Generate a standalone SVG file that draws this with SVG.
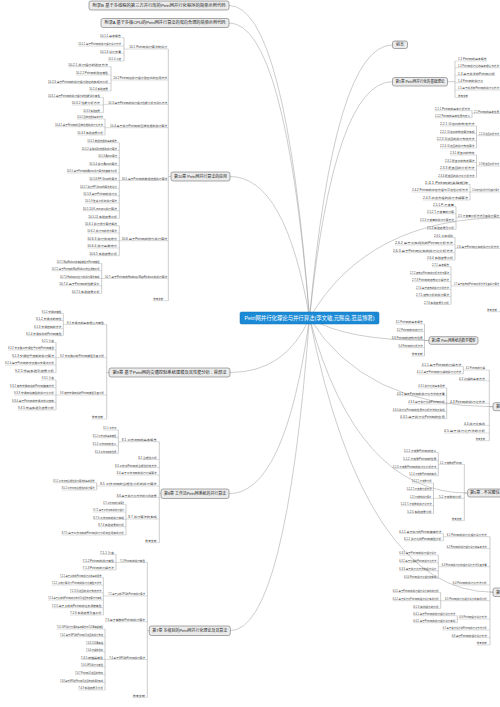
<svg xmlns="http://www.w3.org/2000/svg" width="500" height="707" viewBox="0 0 500 707">
<style>
.k path{fill:none;stroke:#9a9a9a;stroke-width:.5}
.n text{font-family:'Liberation Sans','Noto Sans CJK SC',sans-serif;font-size:2.8px;fill:#3a3a3a}
.n path{fill:none;stroke:#a6a6a6;stroke-width:.4}
.m rect{fill:#ebebeb;stroke:#6f6f6f;stroke-width:.6}
.m text{font-family:'Liberation Sans','Noto Sans CJK SC',sans-serif;font-size:4px;fill:#222;text-anchor:middle}
.m text.s{text-anchor:start}
#root rect{fill:#1b8ad6;stroke:#1670b0;stroke-width:.5}
#root text{fill:#fff;font-size:5.6px}
</style>
<rect width="500" height="707" fill="#fff"/>
<g id="connectors" class="k">
<path d="M309.5 318Q285.4 5.5 229 5.5"/>
<path d="M309.5 318Q285.4 23 229 23"/>
<path d="M309.5 318Q285.7 176.5 230 176.5"/>
<path d="M309.5 318Q285.7 372.5 230 372.5"/>
<path d="M309.5 318Q285.4 493.7 229 493.7"/>
<path d="M309.5 318Q285.7 630.7 230 630.7"/>
<path d="M309.5 318Q334.4 45 392.5 45"/>
<path d="M309.5 318Q334.4 81.7 392.5 81.7"/>
<path d="M309.5 318Q368.2 217.7 505 217.7"/>
<path d="M309.5 318Q345.4 340.5 429 340.5"/>
<path d="M309.5 318Q364.6 406.7 493 406.7"/>
<path d="M309.5 318Q357 493 467.7 493"/>
<path d="M309.5 318Q364.6 592.2 493 592.2"/>
<path d="M168.3 49V300.7M168.3 176.5H171"/>
<path d="M124 37.7V61M111 66.7V91M103.3 97.4V112.7M105 119V135M119.3 142.7V218.4M119.3 225.7V255.7M101.7 263.4V293.4"/>
<path d="M106.7 324.4V419M106.7 372.5H109"/>
<path d="M63.3 313.4V335.7M56 342.4V372.7M56 380V410"/>
<path d="M159.3 441.7V542.7M159.3 493.7H161"/>
<path d="M118.3 430V453.4M96.7 482.7V490M126 504.4V535"/>
<path d="M147.3 562.4V697.4M147.3 630.7H149.3"/>
<path d="M116 554.4V570M103.3 577.4V615M105 629V690"/>
<path d="M447.5 81.7H455M455 61V97.4"/>
<path d="M472 110.7V117.7M476.5 126V148M476.5 155V177.4M470 184.4V200M456 206.7V229.4M455 237.4V260M451 266.7V304.4"/>
<path d="M424.5 324V356M424.5 340.5H429"/>
<path d="M489.3 370V440.7M489.3 406.7H493M463.3 366.4V374M446.7 388V418.7"/>
<path d="M464.3 464.4V520.7M464.3 493H467.7M438.3 452.4V475.7M433.5 483V513.4"/>
<path d="M490 536.7V645M490 592.2H493M443.3 533.4V540.7M438.3 555V578.4M440.7 592.4V608.4M457.3 615.7V622.7"/>
</g>
<g class="n">
<g id="n10_1"><text x="129.3" y="48.3" textLength="38" lengthAdjust="spacingAndGlyphs">10.1 Petri网并行算法的设计</text><path d="M124 49H168.3"/></g>
<g id="n10_1_1"><text x="100" y="37" textLength="21" lengthAdjust="spacingAndGlyphs">10.1.1 基本概念</text><path d="M100 37.7H124"/></g>
<g id="n10_1_2"><text x="78.3" y="45.3" textLength="42.7" lengthAdjust="spacingAndGlyphs">10.1.2 基于Petri网的并行程序设计方法</text><path d="M78.3 46H124"/></g>
<g id="n10_1_3"><text x="100" y="52.7" textLength="21" lengthAdjust="spacingAndGlyphs">10.1.3 设计步骤</text><path d="M100 53.4H124"/></g>
<g id="n10_1_4"><text x="108.3" y="60.3" textLength="12.7" lengthAdjust="spacingAndGlyphs">10.1.4 小结</text><path d="M108.3 61H124"/></g>
<g id="n10_2"><text x="113.3" y="79.3" textLength="54" lengthAdjust="spacingAndGlyphs">10.2 Petri网在并行程序验证中的应用方法</text><path d="M111 80H168.3"/></g>
<g id="n10_2_1"><text x="68.3" y="66" textLength="39.7" lengthAdjust="spacingAndGlyphs">10.2.1 并行程序的验证方法</text><path d="M68.3 66.7H111"/></g>
<g id="n10_2_2"><text x="76" y="74.3" textLength="32" lengthAdjust="spacingAndGlyphs">10.2.2 Petri网的验证模型</text><path d="M76 75H111"/></g>
<g id="n10_2_3"><text x="48" y="82.7" textLength="60" lengthAdjust="spacingAndGlyphs">10.2.3 基于Petri网的并行程序验证的实现与分析</text><path d="M48 83.4H111"/></g>
<g id="n10_2_4"><text x="89.3" y="90.3" textLength="18.7" lengthAdjust="spacingAndGlyphs">10.2.4 实验结果</text><path d="M89.3 91H111"/></g>
<g id="n10_3"><text x="108.3" y="103.7" textLength="59" lengthAdjust="spacingAndGlyphs">10.3 基于Petri网的并行程序性能分析与评价方法</text><path d="M103.3 104.4H168.3"/></g>
<g id="n10_3_1"><text x="48" y="96.7" textLength="52" lengthAdjust="spacingAndGlyphs">10.3.1 基于Petri网的并行程序的性能评价模型</text><path d="M48 97.4H103.3"/></g>
<g id="n10_3_2"><text x="71.7" y="104.3" textLength="28.3" lengthAdjust="spacingAndGlyphs">10.3.2 性能分析方法</text><path d="M71.7 105H103.3"/></g>
<g id="n10_3_3"><text x="83.3" y="112" textLength="16.7" lengthAdjust="spacingAndGlyphs">10.3.3 实验结果</text><path d="M83.3 112.7H103.3"/></g>
<g id="n10_4"><text x="110" y="127" textLength="57.3" lengthAdjust="spacingAndGlyphs">10.4 基于并行Petri网的图像处理的并行算法</text><path d="M105 127.7H168.3"/></g>
<g id="n10_4_1"><text x="77" y="118.3" textLength="26" lengthAdjust="spacingAndGlyphs">10.4.1 图像处理的基本方法</text><path d="M77 119H105"/></g>
<g id="n10_4_2"><text x="55" y="126" textLength="48" lengthAdjust="spacingAndGlyphs">10.4.2 基于Petri网的图像处理的并行化方法</text><path d="M55 126.7H105"/></g>
<g id="n10_4_3"><text x="77.3" y="134.3" textLength="25.7" lengthAdjust="spacingAndGlyphs">10.4.3 实验结果分析</text><path d="M77.3 135H105"/></g>
<g id="n10_5"><text x="121.7" y="179.7" textLength="45.6" lengthAdjust="spacingAndGlyphs">10.5 基于Petri网的数据挖掘并行算法</text><path d="M119.3 180.4H168.3"/></g>
<g id="n10_5_1"><text x="87.3" y="142" textLength="29.7" lengthAdjust="spacingAndGlyphs">10.5.1 数据挖掘的基本概念</text><path d="M87.3 142.7H119.3"/></g>
<g id="n10_5_2"><text x="81.7" y="149.7" textLength="35.3" lengthAdjust="spacingAndGlyphs">10.5.2 关联规则挖掘的并行算法</text><path d="M81.7 150.4H119.3"/></g>
<g id="n10_5_3"><text x="98.3" y="157" textLength="18.7" lengthAdjust="spacingAndGlyphs">10.5.3 Apriori算法</text><path d="M98.3 157.7H119.3"/></g>
<g id="n10_5_4"><text x="89.3" y="164.7" textLength="27.7" lengthAdjust="spacingAndGlyphs">10.5.4 并行Apriori算法</text><path d="M89.3 165.4H119.3"/></g>
<g id="n10_5_5"><text x="66.7" y="172.3" textLength="50.3" lengthAdjust="spacingAndGlyphs">10.5.5 基于Petri网的Apriori并行算法的建模与分析</text><path d="M66.7 173H119.3"/></g>
<g id="n10_5_6"><text x="89.3" y="180" textLength="27.7" lengthAdjust="spacingAndGlyphs">10.5.6 FP-Growth算法</text><path d="M89.3 180.7H119.3"/></g>
<g id="n10_5_7"><text x="80" y="187.7" textLength="37" lengthAdjust="spacingAndGlyphs">10.5.7 并行FP-Growth算法的设计</text><path d="M80 188.4H119.3"/></g>
<g id="n10_5_8"><text x="83.3" y="195" textLength="33.7" lengthAdjust="spacingAndGlyphs">10.5.8 基于Petri网的并行化</text><path d="M83.3 195.7H119.3"/></g>
<g id="n10_5_9"><text x="85" y="202.3" textLength="32" lengthAdjust="spacingAndGlyphs">10.5.9 聚类分析的并行算法</text><path d="M85 203H119.3"/></g>
<g id="n10_5_10"><text x="82.7" y="210" textLength="34.3" lengthAdjust="spacingAndGlyphs">10.5.10 K-means并行算法</text><path d="M82.7 210.7H119.3"/></g>
<g id="n10_5_11"><text x="88.3" y="217.7" textLength="28.7" lengthAdjust="spacingAndGlyphs">10.5.11 实验结果分析</text><path d="M88.3 218.4H119.3"/></g>
<g id="n10_6"><text x="121.7" y="240" textLength="45.6" lengthAdjust="spacingAndGlyphs">10.6 基于Petri网的排序并行算法</text><path d="M119.3 240.7H168.3"/></g>
<g id="n10_6_1"><text x="85" y="225" textLength="32" lengthAdjust="spacingAndGlyphs">10.6.1 并行排序算法概述</text><path d="M85 225.7H119.3"/></g>
<g id="n10_6_2"><text x="87.3" y="232.3" textLength="29.7" lengthAdjust="spacingAndGlyphs">10.6.2 并行归并排序算法</text><path d="M87.3 233H119.3"/></g>
<g id="n10_6_3"><text x="87.3" y="240" textLength="29.7" lengthAdjust="spacingAndGlyphs">10.6.3 并行快速排序</text><path d="M87.3 240.7H119.3"/></g>
<g id="n10_6_4"><text x="87.3" y="247.3" textLength="29.7" lengthAdjust="spacingAndGlyphs">10.6.4 并行基数排序</text><path d="M87.3 248H119.3"/></g>
<g id="n10_6_5"><text x="89.3" y="255" textLength="27.7" lengthAdjust="spacingAndGlyphs">10.6.5 实验结果分析</text><path d="M89.3 255.7H119.3"/></g>
<g id="n10_7"><text x="105" y="277.7" textLength="62.3" lengthAdjust="spacingAndGlyphs">10.7 基于Petri网的Hadoop MapReduce的并行算法</text><path d="M101.7 278.4H168.3"/></g>
<g id="n10_7_1"><text x="56.7" y="262.7" textLength="42.8" lengthAdjust="spacingAndGlyphs">10.7.1 MapReduce的编程模型与Petri网模型</text><path d="M56.7 263.4H101.7"/></g>
<g id="n10_7_2"><text x="51.7" y="270" textLength="47.8" lengthAdjust="spacingAndGlyphs">10.7.2 基于Petri网的MapReduce作业调度分析</text><path d="M51.7 270.7H101.7"/></g>
<g id="n10_7_3"><text x="60" y="277.7" textLength="39.5" lengthAdjust="spacingAndGlyphs">10.7.3 Hadoop平台下的并行算法实现</text><path d="M60 278.4H101.7"/></g>
<g id="n10_7_4"><text x="59.3" y="285" textLength="40.2" lengthAdjust="spacingAndGlyphs">10.7.4 基于Petri网的性能评价</text><path d="M59.3 285.7H101.7"/></g>
<g id="n10_7_5"><text x="71.7" y="292.7" textLength="27.8" lengthAdjust="spacingAndGlyphs">10.7.5 实验结果分析</text><path d="M71.7 293.4H101.7"/></g>
<g id="n10_r"><text x="153.3" y="300" textLength="10" lengthAdjust="spacingAndGlyphs">参考文献</text><path d="M153.3 300.7H168.3"/></g>

<g id="n9_1"><text x="66.7" y="323.7" textLength="37.3" lengthAdjust="spacingAndGlyphs">9.1 交通流的基本理论与模型</text><path d="M63.3 324.4H106.7"/></g>
<g id="n9_1_1"><text x="41.7" y="312.7" textLength="19.8" lengthAdjust="spacingAndGlyphs">9.1.1 交通流模型</text><path d="M41.7 313.4H63.3"/></g>
<g id="n9_1_2"><text x="36" y="320" textLength="25.5" lengthAdjust="spacingAndGlyphs">9.1.2 交通流的特性</text><path d="M36 320.7H63.3"/></g>
<g id="n9_1_3"><text x="34" y="327.7" textLength="27.5" lengthAdjust="spacingAndGlyphs">9.1.3 交通控制的方法</text><path d="M34 328.4H63.3"/></g>
<g id="n9_1_4"><text x="26" y="335" textLength="35.5" lengthAdjust="spacingAndGlyphs">9.1.4 交通系统的Petri网模型</text><path d="M26 335.7H63.3"/></g>
<g id="n9_2"><text x="60" y="357" textLength="44" lengthAdjust="spacingAndGlyphs">9.2 交叉路口的Petri网模型及其分析</text><path d="M56 357.7H106.7"/></g>
<g id="n9_2_1"><text x="41.7" y="341.7" textLength="12.3" lengthAdjust="spacingAndGlyphs">9.2.1 引言</text><path d="M41.7 342.4H56"/></g>
<g id="n9_2_2"><text x="8" y="349.3" textLength="46" lengthAdjust="spacingAndGlyphs">9.2.2 交叉路口交通信号灯的Petri网模型</text><path d="M8 350H56"/></g>
<g id="n9_2_3"><text x="12" y="357" textLength="42" lengthAdjust="spacingAndGlyphs">9.2.3 交通信号控制的并行算法</text><path d="M12 357.7H56"/></g>
<g id="n9_2_4"><text x="5" y="364.3" textLength="49" lengthAdjust="spacingAndGlyphs">9.2.4 基于Petri网的交叉路口交通流分析</text><path d="M5 365H56"/></g>
<g id="n9_2_5"><text x="15" y="372" textLength="39" lengthAdjust="spacingAndGlyphs">9.2.5 仿真实验及结果分析</text><path d="M15 372.7H56"/></g>
<g id="n9_3"><text x="60" y="394.3" textLength="44" lengthAdjust="spacingAndGlyphs">9.3 城市交通网络的Petri网模型及其分析</text><path d="M56 395H106.7"/></g>
<g id="n9_3_1"><text x="41.7" y="379.3" textLength="12.3" lengthAdjust="spacingAndGlyphs">9.3.1 引言</text><path d="M41.7 380H56"/></g>
<g id="n9_3_2"><text x="10" y="387" textLength="44" lengthAdjust="spacingAndGlyphs">9.3.2 城市交通网络的Petri网建模方法</text><path d="M10 387.7H56"/></g>
<g id="n9_3_3"><text x="14" y="394.3" textLength="40" lengthAdjust="spacingAndGlyphs">9.3.3 交通网络模型的并行化分析</text><path d="M14 395H56"/></g>
<g id="n9_3_4"><text x="12" y="401.7" textLength="42" lengthAdjust="spacingAndGlyphs">9.3.4 基于Petri网的交通流优化控制</text><path d="M12 402.4H56"/></g>
<g id="n9_3_5"><text x="18" y="409.3" textLength="36" lengthAdjust="spacingAndGlyphs">9.3.5 仿真实验及结果分析</text><path d="M18 410H56"/></g>
<g id="n9_r"><text x="91.7" y="418.3" textLength="11.6" lengthAdjust="spacingAndGlyphs">参考文献</text><path d="M91.7 419H106.7"/></g>

<g id="n8_1"><text x="121.7" y="441" textLength="35" lengthAdjust="spacingAndGlyphs">8.1 工作流网的基本概念</text><path d="M118.3 441.7H159.3"/></g>
<g id="n8_1_1"><text x="103.3" y="429.3" textLength="13" lengthAdjust="spacingAndGlyphs">8.1.1 工作流</text><path d="M103.3 430H118.3"/></g>
<g id="n8_1_2"><text x="92.7" y="437" textLength="23.6" lengthAdjust="spacingAndGlyphs">8.1.2 工作流的基本模型</text><path d="M92.7 437.7H118.3"/></g>
<g id="n8_1_3"><text x="92.7" y="445" textLength="23.6" lengthAdjust="spacingAndGlyphs">8.1.3 工作流网的定义</text><path d="M92.7 445.7H118.3"/></g>
<g id="n8_1_4"><text x="95" y="452.7" textLength="21.3" lengthAdjust="spacingAndGlyphs">8.1.4 工作流网的性质</text><path d="M95 453.4H118.3"/></g>
<g id="n8_2"><text x="138.3" y="458.7" textLength="18.4" lengthAdjust="spacingAndGlyphs">8.2 合理性分析</text><path d="M138.3 459.4H159.3"/></g>
<g id="n8_3"><text x="115" y="466.7" textLength="41.7" lengthAdjust="spacingAndGlyphs">8.3 工作流Petri网的合理性判定方法</text><path d="M115 467.4H159.3"/></g>
<g id="n8_4"><text x="116.7" y="474.3" textLength="40" lengthAdjust="spacingAndGlyphs">8.4 基于工作流网的并行分解算法</text><path d="M116.7 475H159.3"/></g>
<g id="n8_5"><text x="100" y="485.3" textLength="56.7" lengthAdjust="spacingAndGlyphs">8.5 工作流网的合理性分析的并行算法</text><path d="M96.7 486H159.3"/></g>
<g id="n8_5_1"><text x="53.3" y="482" textLength="41.2" lengthAdjust="spacingAndGlyphs">8.5.1 工作流网合理性并行算法的基本思想</text><path d="M53.3 482.7H96.7"/></g>
<g id="n8_5_2"><text x="61.7" y="489.3" textLength="32.8" lengthAdjust="spacingAndGlyphs">8.5.2 工作流网合理性的并行算法</text><path d="M61.7 490H96.7"/></g>
<g id="n8_6"><text x="116.7" y="496.7" textLength="40" lengthAdjust="spacingAndGlyphs">8.6 基于并行化方法的分析结果</text><path d="M116.7 497.4H159.3"/></g>
<g id="n8_7"><text x="128.3" y="518.3" textLength="28.4" lengthAdjust="spacingAndGlyphs">8.7 并行算法的实现</text><path d="M126 519H159.3"/></g>
<g id="n8_7_1"><text x="103.3" y="503.7" textLength="20.7" lengthAdjust="spacingAndGlyphs">8.7.1 工作流网的分解算法</text><path d="M103.3 504.4H126"/></g>
<g id="n8_7_2"><text x="93.3" y="511.3" textLength="30.7" lengthAdjust="spacingAndGlyphs">8.7.2 基于工作流网的并行程序</text><path d="M93.3 512H126"/></g>
<g id="n8_7_3"><text x="93.3" y="518.7" textLength="30.7" lengthAdjust="spacingAndGlyphs">8.7.3 工作流网的并行实现</text><path d="M93.3 519.4H126"/></g>
<g id="n8_7_4"><text x="98.3" y="526" textLength="25.7" lengthAdjust="spacingAndGlyphs">8.7.4 实验结果的分析</text><path d="M98.3 526.7H126"/></g>
<g id="n8_7_5"><text x="61.7" y="534.3" textLength="62.3" lengthAdjust="spacingAndGlyphs">8.7.5 基于工作流网的Petri网并行分析的应用实例分析</text><path d="M61.7 535H126"/></g>
<g id="n8_r"><text x="145" y="542" textLength="11.7" lengthAdjust="spacingAndGlyphs">参考文献</text><path d="M145 542.7H159.3"/></g>

<g id="n7_1"><text x="120" y="561.7" textLength="25" lengthAdjust="spacingAndGlyphs">7.1 Petri网的并行模型</text><path d="M116 562.4H147.3"/></g>
<g id="n7_1_1"><text x="100" y="553.7" textLength="14" lengthAdjust="spacingAndGlyphs">7.1.1 引言</text><path d="M100 554.4H116"/></g>
<g id="n7_1_2"><text x="82.7" y="561.7" textLength="31.3" lengthAdjust="spacingAndGlyphs">7.1.2 Petri网的并行模型</text><path d="M82.7 562.4H116"/></g>
<g id="n7_1_3"><text x="82.7" y="569.3" textLength="31.3" lengthAdjust="spacingAndGlyphs">7.1.3 Petri网的分解方法</text><path d="M82.7 570H116"/></g>
<g id="n7_2"><text x="108.3" y="595.3" textLength="36.7" lengthAdjust="spacingAndGlyphs">7.2 基于多核CPU的Petri网并行算法</text><path d="M103.3 596H147.3"/></g>
<g id="n7_2_1"><text x="60" y="576.7" textLength="41.5" lengthAdjust="spacingAndGlyphs">7.2.1 基于多核的Petri网并行化的基本思想</text><path d="M60 577.4H103.3"/></g>
<g id="n7_2_2"><text x="51.7" y="584.3" textLength="49.8" lengthAdjust="spacingAndGlyphs">7.2.2 多核计算机下Petri网的并行化模型与方法</text><path d="M51.7 585H103.3"/></g>
<g id="n7_2_3"><text x="70" y="592" textLength="31.5" lengthAdjust="spacingAndGlyphs">7.2.3 可达图的并行构造方法</text><path d="M70 592.7H103.3"/></g>
<g id="n7_2_4"><text x="48" y="599.3" textLength="53.5" lengthAdjust="spacingAndGlyphs">7.2.4 基于多核的Petri网的分布式可达图构造算法与实现</text><path d="M48 600H103.3"/></g>
<g id="n7_2_5"><text x="51.7" y="607" textLength="49.8" lengthAdjust="spacingAndGlyphs">7.2.5 基于多核的Petri网的任务调度模型</text><path d="M51.7 607.7H103.3"/></g>
<g id="n7_2_6"><text x="70" y="614.3" textLength="31.5" lengthAdjust="spacingAndGlyphs">7.2.6 实验结果及其分析</text><path d="M70 615H103.3"/></g>
<g id="n7_3"><text x="105" y="621" textLength="40" lengthAdjust="spacingAndGlyphs">7.3 基于集群的Petri网并行算法</text><path d="M105 621.7H147.3"/></g>
<g id="n7_4"><text x="109.3" y="658.7" textLength="35.7" lengthAdjust="spacingAndGlyphs">7.4 基于GPU的Petri网并行算法</text><path d="M105 659.4H147.3"/></g>
<g id="n7_4_1"><text x="56.7" y="628.3" textLength="46.3" lengthAdjust="spacingAndGlyphs">7.4.1 GPU并行计算的基本概念与CUDA编程模型</text><path d="M56.7 629H105"/></g>
<g id="n7_4_2"><text x="60" y="636" textLength="43" lengthAdjust="spacingAndGlyphs">7.4.2 基于GPU的Petri网可达图的并行构造</text><path d="M60 636.7H105"/></g>
<g id="n7_4_3"><text x="86" y="643.7" textLength="17" lengthAdjust="spacingAndGlyphs">7.4.3 CUDA编程</text><path d="M86 644.4H105"/></g>
<g id="n7_4_4"><text x="86" y="651" textLength="17" lengthAdjust="spacingAndGlyphs">7.4.4 线程的组织</text><path d="M86 651.7H105"/></g>
<g id="n7_4_5"><text x="80.7" y="658.7" textLength="22.3" lengthAdjust="spacingAndGlyphs">7.4.5 存储器模型</text><path d="M80.7 659.4H105"/></g>
<g id="n7_4_6"><text x="80.7" y="666" textLength="22.3" lengthAdjust="spacingAndGlyphs">7.4.6 GPU并行化模型</text><path d="M80.7 666.7H105"/></g>
<g id="n7_4_7"><text x="75" y="673.7" textLength="28" lengthAdjust="spacingAndGlyphs">7.4.7 Petri网可达图的构造</text><path d="M75 674.4H105"/></g>
<g id="n7_4_8"><text x="60" y="681.7" textLength="43" lengthAdjust="spacingAndGlyphs">7.4.8 基于GPU的Petri网可达图构造的算法实现</text><path d="M60 682.4H105"/></g>
<g id="n7_4_9"><text x="78.3" y="689.3" textLength="24.7" lengthAdjust="spacingAndGlyphs">7.4.9 实验结果及分析</text><path d="M78.3 690H105"/></g>
<g id="n7_r"><text x="132.7" y="696.7" textLength="12.3" lengthAdjust="spacingAndGlyphs">参考文献</text><path d="M132.7 697.4H147.3"/></g>

<g id="n1_1"><text x="458" y="60.3" textLength="28.7" lengthAdjust="spacingAndGlyphs">1.1 Petri网的基本概念</text><path d="M455 61H486.7"/></g>
<g id="n1_2"><text x="458" y="67" textLength="41" lengthAdjust="spacingAndGlyphs">1.2 Petri网并行化的基本理论与方法</text><path d="M455 67.7H504"/></g>
<g id="n1_3"><text x="458" y="74.7" textLength="37" lengthAdjust="spacingAndGlyphs">1.3 基于并发的Petri网分析</text><path d="M455 75.4H495"/></g>
<g id="n1_4"><text x="458" y="82" textLength="25" lengthAdjust="spacingAndGlyphs">1.4 Petri网的并行化</text><path d="M455 82.7H483"/></g>
<g id="n1_5"><text x="458" y="89.3" textLength="41" lengthAdjust="spacingAndGlyphs">1.5 基于并发的Petri网的并行化方法</text><path d="M455 90H504"/></g>
<g id="n1_r"><text x="458" y="96.7" textLength="10" lengthAdjust="spacingAndGlyphs">参考文献</text><path d="M455 97.4H468"/></g>

<g id="n2_1"><text x="474" y="112.7" textLength="25" lengthAdjust="spacingAndGlyphs">2.1 Petri网的基本性质</text><path d="M472 113.4H505"/></g>
<g id="n2_1_1"><text x="435" y="110" textLength="35" lengthAdjust="spacingAndGlyphs">2.1.1 Petri网的基本分析方法</text><path d="M435 110.7H472"/></g>
<g id="n2_1_2"><text x="435" y="117" textLength="35" lengthAdjust="spacingAndGlyphs">2.1.2 Petri网的基本性质与定义</text><path d="M435 117.7H472"/></g>
<g id="n2_2"><text x="479" y="135" textLength="20" lengthAdjust="spacingAndGlyphs">2.2 可达图分析方法</text><path d="M476.5 135.7H505"/></g>
<g id="n2_2_1"><text x="440" y="125.3" textLength="34.5" lengthAdjust="spacingAndGlyphs">2.2.1 可达树的构造方法</text><path d="M440 126H476.5"/></g>
<g id="n2_2_2"><text x="440" y="132.7" textLength="34.5" lengthAdjust="spacingAndGlyphs">2.2.2 可达树的构造算法实现</text><path d="M440 133.4H476.5"/></g>
<g id="n2_2_3"><text x="436.7" y="140" textLength="37.8" lengthAdjust="spacingAndGlyphs">2.2.3 可达图的并行构造方法</text><path d="M436.7 140.7H476.5"/></g>
<g id="n2_2_4"><text x="440" y="147.3" textLength="34.5" lengthAdjust="spacingAndGlyphs">2.2.4 可达图的并行构造算法</text><path d="M440 148H476.5"/></g>
<g id="n2_3"><text x="479" y="165.3" textLength="20" lengthAdjust="spacingAndGlyphs">2.3 覆盖图分析方法</text><path d="M476.5 166H505"/></g>
<g id="n2_3_1"><text x="450" y="154.3" textLength="24.5" lengthAdjust="spacingAndGlyphs">2.3.1 覆盖树的构造</text><path d="M450 155H476.5"/></g>
<g id="n2_3_2"><text x="445" y="161.7" textLength="29.5" lengthAdjust="spacingAndGlyphs">2.3.2 覆盖树的构造算法</text><path d="M445 162.4H476.5"/></g>
<g id="n2_3_3"><text x="440" y="169.3" textLength="34.5" lengthAdjust="spacingAndGlyphs">2.3.3 覆盖图的分析方法</text><path d="M440 170H476.5"/></g>
<g id="n2_3_4"><text x="438.3" y="176.7" textLength="36.2" lengthAdjust="spacingAndGlyphs">2.3.4 覆盖图的并行化分析方法</text><path d="M438.3 177.4H476.5"/></g>
<g id="n2_4"><text x="472" y="191.3" textLength="27" lengthAdjust="spacingAndGlyphs">2.4 状态方程分析方法及其并行算法</text><path d="M470 192H505"/></g>
<g id="n2_4_1"><text x="425" y="183.7" textLength="43" lengthAdjust="spacingAndGlyphs">2.4.1 Petri网的关联矩阵</text><path d="M425 184.4H470"/></g>
<g id="n2_4_2"><text x="412" y="191.3" textLength="56" lengthAdjust="spacingAndGlyphs">2.4.2 Petri网的状态方程与可达性分析方法</text><path d="M412 192H470"/></g>
<g id="n2_4_3"><text x="423" y="199.3" textLength="45" lengthAdjust="spacingAndGlyphs">2.4.3 状态方程的并行求解算法</text><path d="M423 200H470"/></g>
<g id="n2_5"><text x="458" y="217" textLength="41" lengthAdjust="spacingAndGlyphs">2.5 不变量分析方法及其并行算法</text><path d="M456 217.7H505"/></g>
<g id="n2_5_1"><text x="433" y="206" textLength="21" lengthAdjust="spacingAndGlyphs">2.5.1 P-不变量</text><path d="M433 206.7H456"/></g>
<g id="n2_5_2"><text x="427" y="213" textLength="27" lengthAdjust="spacingAndGlyphs">2.5.2 T-不变量的计算</text><path d="M427 213.7H456"/></g>
<g id="n2_5_3"><text x="420" y="221" textLength="34" lengthAdjust="spacingAndGlyphs">2.5.3 不变量的并行计算方法</text><path d="M420 221.7H456"/></g>
<g id="n2_5_4"><text x="427" y="228.7" textLength="27" lengthAdjust="spacingAndGlyphs">2.5.4 实验结果及分析</text><path d="M427 229.4H456"/></g>
<g id="n2_6"><text x="457" y="247.7" textLength="42" lengthAdjust="spacingAndGlyphs">2.6 基于Petri网化简的并行分析方法</text><path d="M455 248.4H505"/></g>
<g id="n2_6_1"><text x="434" y="236.7" textLength="19" lengthAdjust="spacingAndGlyphs">2.6.1 化简规则</text><path d="M434 237.4H455"/></g>
<g id="n2_6_2"><text x="395" y="244.3" textLength="58" lengthAdjust="spacingAndGlyphs">2.6.2 基于化简规则的Petri网分析方法</text><path d="M395 245H455"/></g>
<g id="n2_6_3"><text x="393" y="252" textLength="60" lengthAdjust="spacingAndGlyphs">2.6.3 基于Petri网化简的并行化分析方法</text><path d="M393 252.7H455"/></g>
<g id="n2_6_4"><text x="427" y="259.3" textLength="26" lengthAdjust="spacingAndGlyphs">2.6.4 实验结果分析</text><path d="M427 260H455"/></g>
<g id="n2_7"><text x="454" y="285.3" textLength="45" lengthAdjust="spacingAndGlyphs">2.7 基于结构的Petri网分析方法及其并行算法</text><path d="M451 286H505"/></g>
<g id="n2_7_1"><text x="432" y="266" textLength="17" lengthAdjust="spacingAndGlyphs">2.7.1 基本概念</text><path d="M432 266.7H451"/></g>
<g id="n2_7_2"><text x="410" y="273.7" textLength="39" lengthAdjust="spacingAndGlyphs">2.7.2 结构化Petri网的分析方法与算法</text><path d="M410 274.4H451"/></g>
<g id="n2_7_3"><text x="412" y="281" textLength="37" lengthAdjust="spacingAndGlyphs">2.7.3 Petri网的结构化分解方法</text><path d="M412 281.7H451"/></g>
<g id="n2_7_4"><text x="416" y="288.7" textLength="33" lengthAdjust="spacingAndGlyphs">2.7.4 基于结构的并行分析方法</text><path d="M416 289.4H451"/></g>
<g id="n2_7_5"><text x="416" y="296" textLength="33" lengthAdjust="spacingAndGlyphs">2.7.5 结构分析的并行算法</text><path d="M416 296.7H451"/></g>
<g id="n2_7_6"><text x="424" y="303.7" textLength="25" lengthAdjust="spacingAndGlyphs">2.7.6 实验结果及分析</text><path d="M424 304.4H451"/></g>
<g id="n2_r"><text x="487" y="311" textLength="10" lengthAdjust="spacingAndGlyphs">参考文献</text><path d="M487 311.7H505"/></g>

<g id="n3_1"><text x="395.7" y="323.3" textLength="27" lengthAdjust="spacingAndGlyphs">3.1 Petri网的基本概念</text><path d="M395.7 324H424.5"/></g>
<g id="n3_2"><text x="396.7" y="331" textLength="26" lengthAdjust="spacingAndGlyphs">3.2 Petri网的动态行为</text><path d="M396.7 331.7H424.5"/></g>
<g id="n3_3"><text x="391.7" y="338.7" textLength="31" lengthAdjust="spacingAndGlyphs">3.3 Petri网的结构与性质</text><path d="M391.7 339.4H424.5"/></g>
<g id="n3_4"><text x="398.3" y="347" textLength="24.4" lengthAdjust="spacingAndGlyphs">3.4 Petri网的分析方法</text><path d="M398.3 347.7H424.5"/></g>
<g id="n3_r"><text x="411.7" y="355.3" textLength="11" lengthAdjust="spacingAndGlyphs">参考文献</text><path d="M411.7 356H424.5"/></g>

<g id="n4_1"><text x="465.7" y="369.3" textLength="19.3" lengthAdjust="spacingAndGlyphs">4.1 Petri网的分解</text><path d="M463.3 370H489.3"/></g>
<g id="n4_1_1"><text x="421.7" y="365.7" textLength="39.6" lengthAdjust="spacingAndGlyphs">4.1.1 基于Petri网的分解方法</text><path d="M421.7 366.4H463.3"/></g>
<g id="n4_1_2"><text x="416.7" y="373.3" textLength="44.6" lengthAdjust="spacingAndGlyphs">4.1.2 基于Petri网的分解的并行化方法</text><path d="M416.7 374H463.3"/></g>
<g id="n4_2"><text x="459" y="380" textLength="26" lengthAdjust="spacingAndGlyphs">4.2 分解的基本方法</text><path d="M459 380.7H489.3"/></g>
<g id="n4_3"><text x="450" y="402.7" textLength="35" lengthAdjust="spacingAndGlyphs">4.3 Petri网的并行化方法</text><path d="M446.7 403.4H489.3"/></g>
<g id="n4_3_1"><text x="418.3" y="387.3" textLength="26.4" lengthAdjust="spacingAndGlyphs">4.3.1 并行化的基本思想</text><path d="M418.3 388H446.7"/></g>
<g id="n4_3_2"><text x="396.7" y="395" textLength="48" lengthAdjust="spacingAndGlyphs">4.3.2 基于Petri网的并行化方法的步骤</text><path d="M396.7 395.7H446.7"/></g>
<g id="n4_3_3"><text x="408.3" y="403.3" textLength="36.4" lengthAdjust="spacingAndGlyphs">4.3.3 基于并行化的Petri网分析</text><path d="M408.3 404H446.7"/></g>
<g id="n4_3_4"><text x="392.7" y="410.7" textLength="52" lengthAdjust="spacingAndGlyphs">4.3.4 并行化Petri网的性质与分析方法的正确性</text><path d="M392.7 411.4H446.7"/></g>
<g id="n4_3_5"><text x="400" y="418" textLength="44.7" lengthAdjust="spacingAndGlyphs">4.3.5 基于并行化Petri网的应用</text><path d="M400 418.7H446.7"/></g>
<g id="n4_4"><text x="464" y="424.7" textLength="21" lengthAdjust="spacingAndGlyphs">4.4 并行化实例</text><path d="M464 425.4H489.3"/></g>
<g id="n4_5"><text x="444" y="432.3" textLength="41" lengthAdjust="spacingAndGlyphs">4.5 基于并行化方法的分析</text><path d="M444 433H489.3"/></g>
<g id="n4_r"><text x="475.7" y="440" textLength="9.3" lengthAdjust="spacingAndGlyphs">参考文献</text><path d="M475.7 440.7H489.3"/></g>

<g id="n5_1"><text x="440" y="463.7" textLength="21.7" lengthAdjust="spacingAndGlyphs">5.1 不完整的Petri网</text><path d="M438.3 464.4H464.3"/></g>
<g id="n5_1_1"><text x="404" y="451.7" textLength="32.3" lengthAdjust="spacingAndGlyphs">5.1.1 不完整Petri网的定义</text><path d="M404 452.4H438.3"/></g>
<g id="n5_1_2"><text x="403.3" y="459.7" textLength="33" lengthAdjust="spacingAndGlyphs">5.1.2 不完整Petri网的性质</text><path d="M403.3 460.4H438.3"/></g>
<g id="n5_1_3"><text x="392.7" y="467.7" textLength="43.6" lengthAdjust="spacingAndGlyphs">5.1.3 不完整Petri网的并行化分析方法</text><path d="M392.7 468.4H438.3"/></g>
<g id="n5_1_4"><text x="409.3" y="475" textLength="27" lengthAdjust="spacingAndGlyphs">5.1.4 不完整Petri网的实例</text><path d="M409.3 475.7H438.3"/></g>
<g id="n5_2"><text x="439" y="497.7" textLength="22.5" lengthAdjust="spacingAndGlyphs">5.2 不完整的分析</text><path d="M433.5 498.4H464.3"/></g>
<g id="n5_2_1"><text x="411.7" y="482.3" textLength="20" lengthAdjust="spacingAndGlyphs">5.2.1 T-不完整分析</text><path d="M411.7 483H433.5"/></g>
<g id="n5_2_2"><text x="406.7" y="489.7" textLength="25" lengthAdjust="spacingAndGlyphs">5.2.2 T-不完整分析方法</text><path d="M406.7 490.4H433.5"/></g>
<g id="n5_2_3"><text x="410" y="497.7" textLength="21" lengthAdjust="spacingAndGlyphs">5.2.3 不完整的并行算法</text><path d="M410 498.4H433.5"/></g>
<g id="n5_2_4"><text x="400.7" y="505" textLength="31" lengthAdjust="spacingAndGlyphs">5.2.4 T-不完整的并行化方法</text><path d="M400.7 505.7H433.5"/></g>
<g id="n5_2_5"><text x="407.3" y="512.7" textLength="24.4" lengthAdjust="spacingAndGlyphs">5.2.5 实验结果分析</text><path d="M407.3 513.4H433.5"/></g>
<g id="n5_r"><text x="451.7" y="520" textLength="10" lengthAdjust="spacingAndGlyphs">参考文献</text><path d="M451.7 520.7H464.3"/></g>

<g id="n6_1"><text x="446.7" y="536" textLength="40" lengthAdjust="spacingAndGlyphs">6.1 Petri网的并行化程序设计方法</text><path d="M443.3 536.7H490"/></g>
<g id="n6_1_1"><text x="399.3" y="532.7" textLength="42" lengthAdjust="spacingAndGlyphs">6.1.1 基于并行的Petri网建模方法</text><path d="M399.3 533.4H443.3"/></g>
<g id="n6_1_2"><text x="404" y="540" textLength="37.3" lengthAdjust="spacingAndGlyphs">6.1.2 并行化的Petri网模型分析</text><path d="M404 540.7H443.3"/></g>
<g id="n6_2"><text x="446.7" y="547.7" textLength="40" lengthAdjust="spacingAndGlyphs">6.2 Petri网的并行程序设计的基本方法</text><path d="M446.7 548.4H490"/></g>
<g id="n6_3"><text x="441.7" y="566" textLength="45" lengthAdjust="spacingAndGlyphs">6.3 Petri网并行化的程序设计方法及其步骤</text><path d="M438.3 566.7H490"/></g>
<g id="n6_3_1"><text x="399.3" y="554.3" textLength="37" lengthAdjust="spacingAndGlyphs">6.3.1 基于Petri网的并行程序设计</text><path d="M399.3 555H438.3"/></g>
<g id="n6_3_2"><text x="399.3" y="562" textLength="37" lengthAdjust="spacingAndGlyphs">6.3.2 基于分解的Petri网并行化方法</text><path d="M399.3 562.7H438.3"/></g>
<g id="n6_3_3"><text x="399.3" y="570" textLength="37" lengthAdjust="spacingAndGlyphs">6.3.3 基于并行化方法的程序设计</text><path d="M399.3 570.7H438.3"/></g>
<g id="n6_3_4"><text x="404" y="577.7" textLength="32.3" lengthAdjust="spacingAndGlyphs">6.3.4 Petri网并行化程序的实现</text><path d="M404 578.4H438.3"/></g>
<g id="n6_4"><text x="452.7" y="584.3" textLength="34" lengthAdjust="spacingAndGlyphs">6.4 Petri网的并行化方法分析</text><path d="M452.7 585H490"/></g>
<g id="n6_5"><text x="445" y="600" textLength="41.7" lengthAdjust="spacingAndGlyphs">6.5 Petri网并行化程序设计的实例分析</text><path d="M440.7 600.7H490"/></g>
<g id="n6_5_1"><text x="392.7" y="591.7" textLength="46" lengthAdjust="spacingAndGlyphs">6.5.1 基于Petri网的并行程序设计实例的分析</text><path d="M392.7 592.4H440.7"/></g>
<g id="n6_5_2"><text x="392.7" y="600" textLength="46" lengthAdjust="spacingAndGlyphs">6.5.2 基于并行化Petri网的程序设计实例分析</text><path d="M392.7 600.7H440.7"/></g>
<g id="n6_5_3"><text x="413.3" y="607.7" textLength="25.4" lengthAdjust="spacingAndGlyphs">6.5.3 实例程序的分析</text><path d="M413.3 608.4H440.7"/></g>
<g id="n6_6"><text x="459.3" y="618.3" textLength="27.4" lengthAdjust="spacingAndGlyphs">6.6 Petri网程序设计方法</text><path d="M457.3 619H490"/></g>
<g id="n6_6_1"><text x="413.3" y="615" textLength="42" lengthAdjust="spacingAndGlyphs">6.6.1 基于Petri网的并行程序设计方法</text><path d="M413.3 615.7H457.3"/></g>
<g id="n6_6_2"><text x="413.3" y="622" textLength="42" lengthAdjust="spacingAndGlyphs">6.6.2 基于Petri网的并行程序设计实例</text><path d="M413.3 622.7H457.3"/></g>
<g id="n6_7"><text x="442.7" y="629.3" textLength="44" lengthAdjust="spacingAndGlyphs">6.7 基于程序设计的Petri网并行化方法分析</text><path d="M442.7 630H490"/></g>
<g id="n6_8"><text x="451.7" y="636.7" textLength="35" lengthAdjust="spacingAndGlyphs">6.8 基于Petri网的程序设计方法</text><path d="M451.7 637.4H490"/></g>
<g id="n6_r"><text x="476.7" y="644.3" textLength="10" lengthAdjust="spacingAndGlyphs">参考文献</text><path d="M476.7 645H490"/></g>
</g>
<g class="m">
<g id="appB"><rect x="89" y="1" width="140" height="9" rx="2"/><text x="159" y="6.9" textLength="133" lengthAdjust="spacingAndGlyphs">附录B 基于多线程的第三方并行库的Petri网并行化程序的简单示例代码</text></g>
<g id="appA"><rect x="101" y="18.5" width="128" height="9" rx="2"/><text x="165" y="24.4" textLength="121" lengthAdjust="spacingAndGlyphs">附录A 基于多核CPU的Petri网并行算法的双向合理的简单示例代码</text></g>
<g id="ch10"><rect x="171" y="172" width="59" height="9" rx="2"/><text x="200.5" y="177.9" textLength="53" lengthAdjust="spacingAndGlyphs">第10章 Petri网并行算法的应用</text></g>
<g id="ch9"><rect x="109" y="368" width="121" height="9" rx="2"/><text x="169.5" y="373.9" textLength="114" lengthAdjust="spacingAndGlyphs">第9章 基于Petri网的交通控制系统建模及其性能分析 - 首部法</text></g>
<g id="ch8"><rect x="161" y="489" width="68" height="9.5" rx="2"/><text x="195" y="495.1" textLength="62" lengthAdjust="spacingAndGlyphs">第8章 工作流Petri网系统的并行算法</text></g>
<g id="ch7"><rect x="149.3" y="626" width="81" height="9.5" rx="2"/><text x="189.8" y="632.1" textLength="75" lengthAdjust="spacingAndGlyphs">第7章 多级别的Petri网并行化理论及其算法</text></g>
<g id="pref"><rect x="392.5" y="41" width="15" height="7.5" rx="2"/><text x="400" y="46.2" textLength="8" lengthAdjust="spacingAndGlyphs">前言</text></g>
<g id="ch1"><rect x="392.5" y="77.5" width="55" height="8.5" rx="2"/><text x="420" y="83.2" textLength="49" lengthAdjust="spacingAndGlyphs">第1章 Petri网并行化的基础理论</text></g>
<g id="ch3"><rect x="429" y="336.7" width="49" height="7.6" rx="2"/><text x="453.5" y="341.9" textLength="44" lengthAdjust="spacingAndGlyphs">第3章 Petri网系统的数学模型</text></g>
<g id="ch4"><rect x="493" y="402.7" width="70" height="8" rx="2"/><text class="s" x="496" y="408.1">第4章 Petri网的并行化理论</text></g>
<g id="ch5"><rect x="467.7" y="489" width="70" height="8" rx="2"/><text class="s" x="470" y="494.4">第5章 - 不完整信息下的Petri网并行化</text></g>
<g id="ch6"><rect x="493" y="588" width="70" height="8.5" rx="2"/><text class="s" x="496" y="593.6">第6章 Petri网的并行程序设计</text></g>
<g id="root"><rect x="240" y="312" width="139" height="12" rx="1.5"/><text x="309.5" y="320" textLength="130" lengthAdjust="spacingAndGlyphs">Petri网并行化理论与并行算法(李文敏,元赐良,范蓝博著)</text></g>
</g>
</svg>
